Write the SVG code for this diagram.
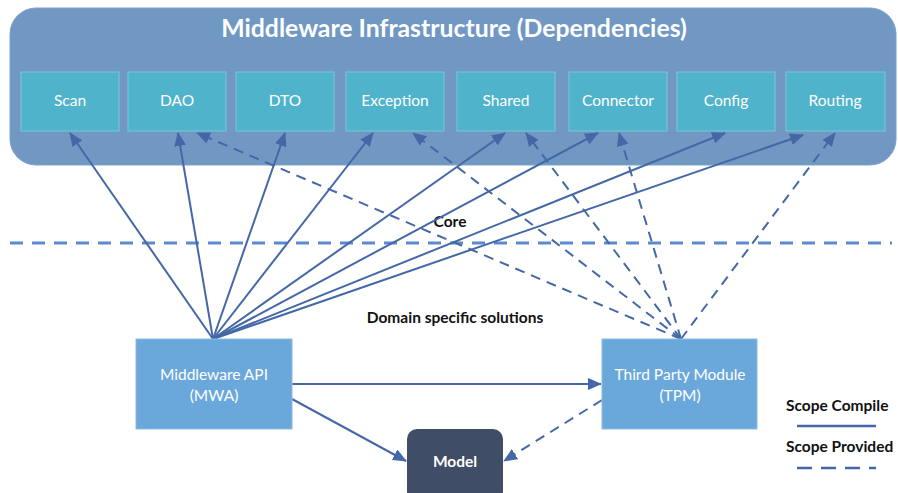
<svg xmlns="http://www.w3.org/2000/svg" width="898" height="493" viewBox="0 0 898 493">
<style>
.box{fill:#4FB3CC;stroke:#7CC6D8;stroke-width:1}
.lbl{font-family:Lato,"Liberation Sans",sans-serif;font-size:15.5px;fill:#fff;text-anchor:middle}
.b{font-family:Lato,"Liberation Sans",sans-serif;font-weight:bold;font-size:15.5px;fill:#111}
.solid{stroke:#4468A6;stroke-width:2;fill:none;marker-end:url(#ah)}
.dash{stroke:#4468A6;stroke-width:2;fill:none;stroke-dasharray:10,7;marker-end:url(#ah)}
.mod{fill:#6AA7DA;stroke:#8DBCE3;stroke-width:1}
</style>
<defs>
<marker id="ah" markerUnits="userSpaceOnUse" markerWidth="14" markerHeight="12" refX="13" refY="6" orient="auto">
<path d="M0,0 L14,6 L0,12 Z" fill="#4468A6"/>
</marker>
</defs>
<rect width="898" height="493" fill="#fff"/>
<g id="infrastructure">
<rect x="10" y="8" width="886" height="157" rx="26" fill="#7098C3" stroke="#7CA2CC"/>
<text x="454" y="37" font-family="Lato,'Liberation Sans',sans-serif" font-weight="bold" font-size="24.8" fill="#fff" text-anchor="middle">Middleware Infrastructure (Dependencies)</text>
</g>
<g id="scan"><rect class="box" x="21" y="72" width="98" height="59"/><text class="lbl" x="70" y="106">Scan</text></g>
<g id="dao"><rect class="box" x="128" y="72" width="98" height="59"/><text class="lbl" x="177" y="106">DAO</text></g>
<g id="dto"><rect class="box" x="236" y="72" width="98" height="59"/><text class="lbl" x="285" y="106">DTO</text></g>
<g id="exception"><rect class="box" x="346" y="72" width="98" height="59"/><text class="lbl" x="395" y="106">Exception</text></g>
<g id="shared"><rect class="box" x="457" y="72" width="98" height="59"/><text class="lbl" x="506" y="106">Shared</text></g>
<g id="connector"><rect class="box" x="569" y="72" width="98" height="59"/><text class="lbl" x="618" y="106">Connector</text></g>
<g id="config"><rect class="box" x="677" y="72" width="98" height="59"/><text class="lbl" x="726" y="106">Config</text></g>
<g id="routing"><rect class="box" x="786" y="72" width="99" height="59"/><text class="lbl" x="835" y="106">Routing</text></g>
<g id="divider">
<line x1="10" y1="243" x2="892" y2="243" stroke="#5B8AD0" stroke-width="3" stroke-dasharray="13,9"/>
<text class="b" x="450" y="227" text-anchor="middle">Core</text>
<text class="b" x="455" y="323" text-anchor="middle">Domain specific solutions</text>
</g>
<g id="connectors">
<line class="solid" x1="213" y1="339" x2="70" y2="133"/>
<line class="solid" x1="213" y1="339" x2="178" y2="133"/>
<line class="solid" x1="213" y1="339" x2="285" y2="133"/>
<line class="solid" x1="213" y1="339" x2="373" y2="133"/>
<line class="solid" x1="213" y1="339" x2="505" y2="133"/>
<line class="solid" x1="213" y1="339" x2="598" y2="133"/>
<line class="solid" x1="213" y1="339" x2="725" y2="133"/>
<line class="solid" x1="213" y1="339" x2="803" y2="135"/>
<line class="dash" x1="681" y1="339" x2="197" y2="133"/>
<line class="dash" x1="681" y1="339" x2="413" y2="133"/>
<line class="dash" x1="681" y1="339" x2="526" y2="133"/>
<line class="dash" x1="681" y1="339" x2="619" y2="133"/>
<line class="dash" x1="681" y1="339" x2="835" y2="133"/>
<line class="solid" x1="292" y1="384" x2="601" y2="384"/>
<line class="solid" x1="292" y1="399" x2="406" y2="461"/>
<line class="dash" x1="602" y1="400" x2="504" y2="461"/>
</g>
<g id="mwa"><rect class="mod" x="136" y="339" width="156" height="90"/><text class="lbl" x="214" y="380">Middleware API</text><text class="lbl" x="214" y="401">(MWA)</text></g>
<g id="tpm"><rect class="mod" x="602" y="339" width="155" height="90"/><text class="lbl" x="680" y="380">Third Party Module</text><text class="lbl" x="680" y="401">(TPM)</text></g>
<g id="model"><rect x="407" y="429" width="96" height="72" rx="10" fill="#3F4E66"/><text x="455" y="467" font-family="Lato,'Liberation Sans',sans-serif" font-weight="bold" font-size="15.5" fill="#fff" text-anchor="middle">Model</text></g>
<g id="legend">
<text class="b" x="786" y="411">Scope Compile</text>
<line x1="797" y1="426" x2="876" y2="426" stroke="#4468A6" stroke-width="2.5"/>
<text class="b" x="786" y="452">Scope Provided</text>
<line x1="797" y1="468" x2="876" y2="468" stroke="#4468A6" stroke-width="2.5" stroke-dasharray="15,9"/>
</g>
</svg>
